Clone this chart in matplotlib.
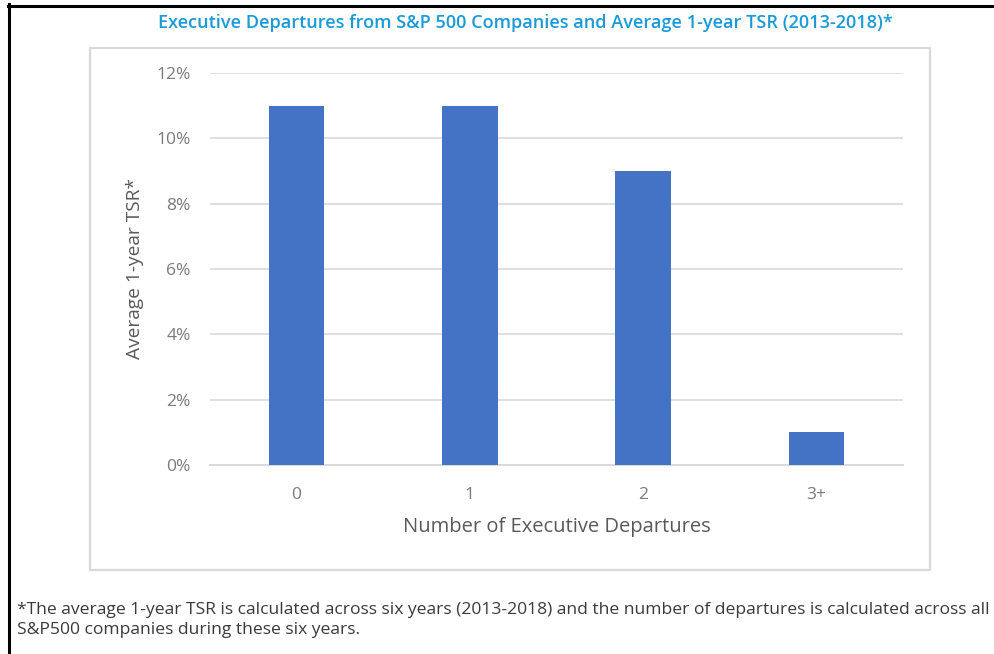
import matplotlib.pyplot as plt
from matplotlib.lines import Line2D
from matplotlib.patches import Rectangle
from matplotlib.ticker import PercentFormatter

categories = ["0", "1", "2", "3+"]
tsr_values = [11, 11, 9, 1]
y_ticks = [0, 2, 4, 6, 8, 10, 12]

title_text = "Executive Departures from S&P 500 Companies and Average 1-year TSR (2013-2018)*"
footnote_text = (
    "*The average 1-year TSR is calculated across six years (2013-2018) and the number of departures is calculated across all\n"
    "S&P500 companies during these six years."
)

fig = plt.figure(figsize=(9.95, 6.54), dpi=100)
W, H = 995, 654

# screenshot frame (black edges)
fig.add_artist(Line2D([9 / W, 9 / W], [0, 1 - 4 / H], color="black", lw=2.2))
fig.add_artist(Line2D([8 / W, 994 / W], [1 - 6 / H, 1 - 6 / H], color="black", lw=2.2))

# chart box
fig.add_artist(Rectangle((90 / W, 1 - 570 / H), 840 / W, 522 / H,
                         transform=fig.transFigure, fill=False,
                         edgecolor="#d9d9d9", lw=1.6))

fig.text(525 / W, 1 - 23 / H, title_text, ha="center", va="center",
         fontsize=13.1, color="#1a9ad8", family="Open Sans", fontweight="semibold")

ax = fig.add_axes([210 / W, 1 - 465 / H, 693 / W, 392 / H])
x = range(len(categories))
ax.bar(x, tsr_values, width=0.32, color="#4472c4", zorder=3)
ax.set_xlim(-0.5, 3.5)
ax.set_ylim(0, 12)
ax.set_yticks(y_ticks)
ax.yaxis.set_major_formatter(PercentFormatter(decimals=0))
ax.set_xticks(list(x))
ax.set_xticklabels(categories)
ax.grid(axis="y", color="#d9d9d9", lw=1.2, zorder=0)
for side in ["top", "right", "left"]:
    ax.spines[side].set_visible(False)
ax.spines["bottom"].set_color("#d9d9d9")
ax.spines["bottom"].set_linewidth(1.4)
ax.tick_params(axis="both", length=0, labelcolor="#7a7a7a", labelsize=12.5)
ax.tick_params(axis="y", pad=14)
ax.tick_params(axis="x", pad=16)
for lbl in ax.get_xticklabels() + ax.get_yticklabels():
    lbl.set_family("Open Sans")

ax.set_xlabel("Number of Executive Departures", fontsize=14.5, color="#595959",
              family="Open Sans", labelpad=10)
ax.set_ylabel("Average 1-year TSR*", fontsize=13.8, color="#595959",
              family="Open Sans", labelpad=9)

fig.text(17 / W, 1 - 620 / H, footnote_text, ha="left", va="center",
         fontsize=12.6, color="#3a3a3a", family="Open Sans", linespacing=1.25)

fig.savefig("out.png", dpi=100)
